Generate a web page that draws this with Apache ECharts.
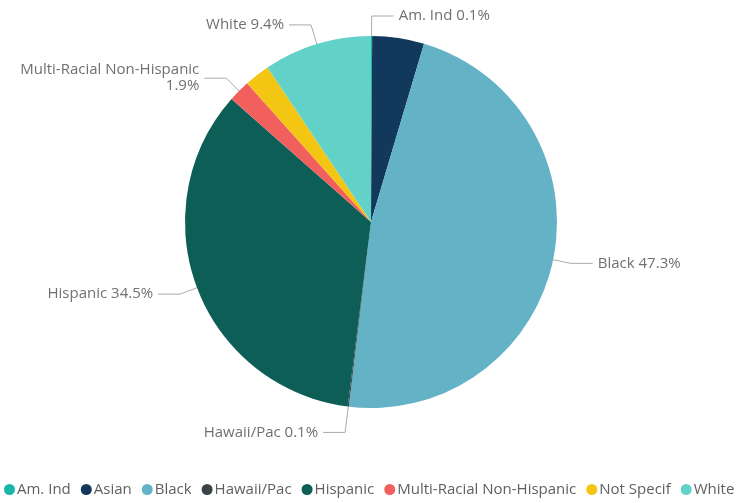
<!DOCTYPE html>
<html><head><meta charset="utf-8">
<script src="https://cdn.jsdelivr.net/npm/echarts@6/dist/echarts.min.js"></script>
<style>html,body{margin:0;padding:0;background:#fff}#c{width:738px;height:503px}</style>
</head><body><div id="c"></div>
<script>
const categories = ['Am. Ind', 'Asian', 'Black', 'Hawaii/Pac', 'Hispanic', 'Multi-Racial Non-Hispanic', 'Not Specif', 'White'];
const values = [0.1, 4.5, 47.3, 0.1, 34.5, 1.9, 2.2, 9.4];
const colors = ['#17B6A8', '#12395B', '#64B2C6', '#3A4447', '#0C5E56', '#F2605D', '#F3C614', '#62D2C8'];
const showLabel = [true, false, true, true, true, true, false, true];
const lineLen = [20, 18, 18, 26, 18, 18, 18, 20];

const chart = echarts.init(document.getElementById('c'));
const font = '"Open Sans", "Noto Sans", sans-serif';
chart.setOption({
  animation: false,
  legend: {
    left: -1, bottom: 1, width: 900, icon: 'circle', itemWidth: 11, itemHeight: 11, itemGap: 10,
    textStyle: { color: '#606060', fontSize: 15, fontFamily: font, padding: [0, 0, 0, -3] },
    data: categories
  },
  series: [{
    type: 'pie', center: [371, 222], radius: 186, startAngle: 90, clockwise: true,
    avoidLabelOverlap: false,
    label: {
      color: '#707070', fontSize: 15, fontFamily: font, lineHeight: 16,
      formatter: p => p.name === 'Multi-Racial Non-Hispanic' ? p.name + '\n' + p.value + '%' : p.name + ' ' + p.value + '%',
      align: 'right'
    },
    labelLine: { length: 18, length2: 22, lineStyle: { color: '#aaa', width: 1 } },
    itemStyle: { borderWidth: 0 },
    data: categories.map((c, i) => ({
      name: c, value: values[i],
      itemStyle: { color: colors[i] },
      label: { show: showLabel[i] },
      labelLine: { show: showLabel[i], length: lineLen[i] }
    }))
  }]
});
</script></body></html>
